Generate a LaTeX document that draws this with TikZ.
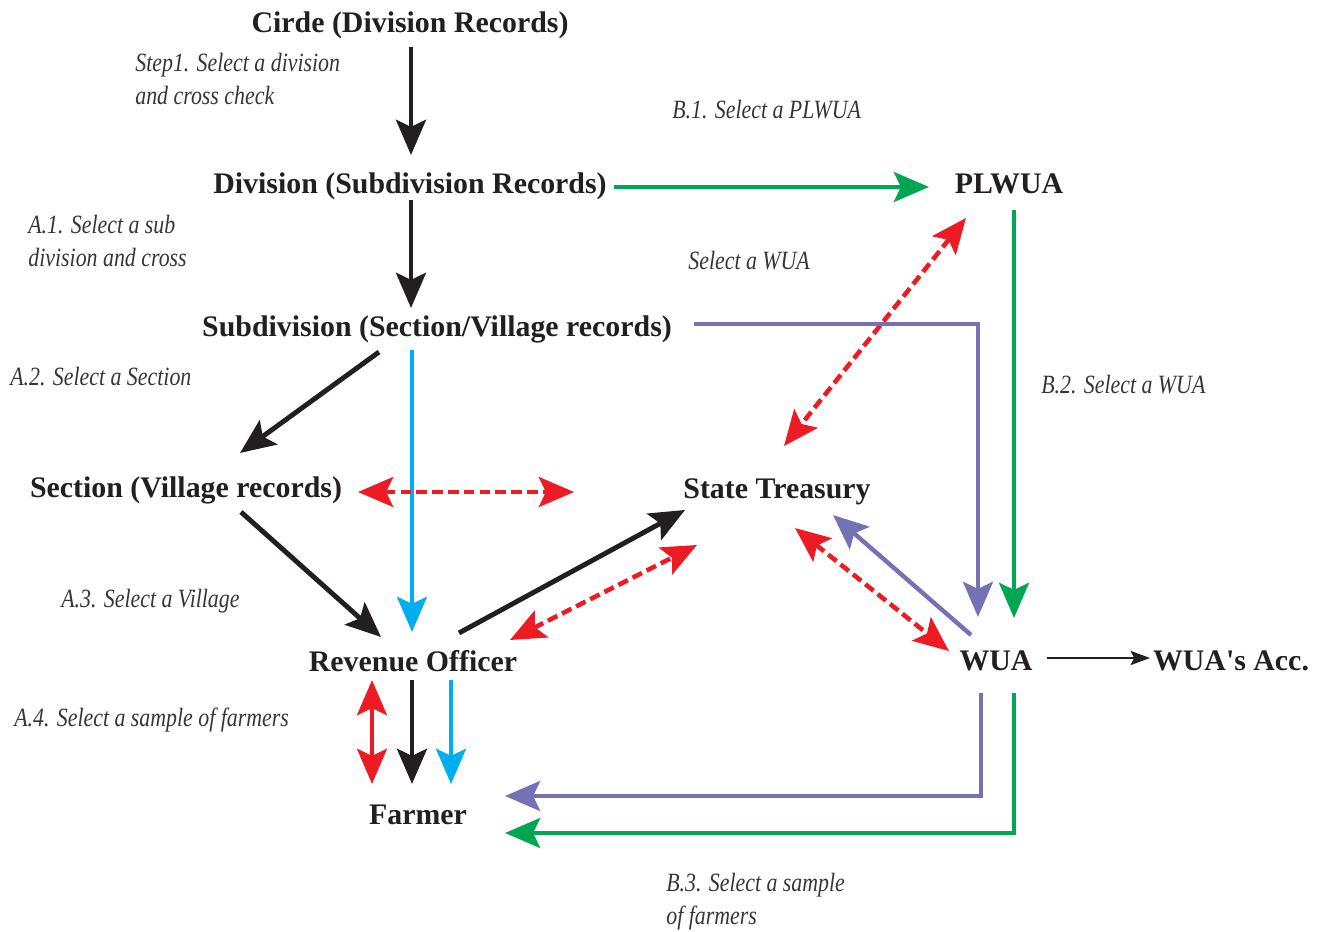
\documentclass[tikz,border=0pt]{standalone}
\usepackage{fontspec}
\setmainfont{Liberation Serif}
\newfontfamily\labfont[FakeStretch=0.83]{Liberation Serif}
\usetikzlibrary{arrows.meta,calc}
\definecolor{ink}{HTML}{231F20}
\definecolor{cGRN}{HTML}{00A651}
\definecolor{cCYN}{HTML}{00AEEF}
\definecolor{cRED}{HTML}{ED1C24}
\definecolor{cPUR}{HTML}{7571B5}

\begin{document}
\begin{tikzpicture}[x=0.02cm, y=-0.02cm, >={Stealth[length=20pt,width=17pt,inset=4pt]},
  box/.style={font=\fontsize{17}{20}\selectfont\bfseries, text=ink, inner sep=0pt, anchor=base},
  lab/.style={font=\labfont\fontsize{15}{18.8}\selectfont\itshape, text=ink!90, inner sep=0pt, anchor=base west, align=left},
  blk/.style={->, draw=ink, line width=2.8pt},
  grn/.style={->, draw=cGRN, line width=2.5pt},
  cyn/.style={->, draw=cCYN, line width=2.5pt},
  pur/.style={->, draw=cPUR, line width=2.5pt},
  red/.style={<->, draw=cRED, line width=2.6pt},
  dsh/.style={red, dash pattern=on 6pt off 3pt}]
\useasboundingbox (0,0) rectangle (1320,932);

\node[box] (cirde) at (410,33) {Cirde (Division Records)};
\node[box] (division) at (410,194) {Division (Subdivision Records)};
\node[box] (plwua) at (1009,194) {PLWUA};
\node[box] (subdiv) at (437,337) {Subdivision (Section/Village records)};
\node[box] (section) at (186,498) {Section (Village records)};
\node[box] (treasury) at (777,499) {State Treasury};
\node[box] (revenue) at (413,672) {Revenue Officer};
\node[box] (wua) at (996,671) {WUA};
\node[box] (wuaacc) at (1231,671) {WUA\textquotesingle s Acc.};
\node[box] (farmer) at (418,825) {Farmer};
\coordinate (secend) at (574,492);

\node[lab] (lstep) at (135,105) {Step1. Select a division\\and cross check};
\node[lab] (lb1) at (672,119) {B.1. Select a PLWUA};
\node[lab] (la1) at (28,267) {A.1. Select a sub\\division and cross};
\node[lab] (lwua) at (688,270) {Select a WUA};
\node[lab] (la2) at (10,386) {A.2. Select a Section};
\node[lab] (lb2) at (1041,394) {B.2. Select a WUA};
\node[lab] (la3) at (61,608) {A.3. Select a Village};
\node[lab] (la4) at (14,726) {A.4. Select a sample of farmers};
\node[lab] (lb3) at (666,925) {B.3. Select a sample\\of farmers};

% top chain
\draw[blk] ($(cirde.base)+(1,14)$) -- ($(division.base)+(1,-39)$);
\draw[blk] ($(division.base)+(1,6)$) -- ($(subdiv.base)+(-26,-29)$);
\draw[grn] ($(division.base)+(204,-7)$) -- ($(plwua.base)+(-80,-7)$);
\draw[dsh] ($(plwua.base)+(-43,24)$) -- ($(treasury.base)+(7,-53)$);
\draw[grn] ($(plwua.base)+(5,16)$) -- ($(wua.base)+(18,-53)$);
\draw[pur] ($(subdiv.base)+(257,-13)$) -| ($(wua.base)+(-18,-54)$);

% section / revenue officer
\draw[blk] ($(subdiv.base)+(-58,15)$) -- ($(section.base)+(54,-45)$);
\draw[cyn] ($(subdiv.base)+(-25,13)$) -- ($(revenue.base)+(-1,-40)$);
\draw[dsh] ($(section.base)+(172,-6)$) -- (secend);
\draw[blk] ($(section.base)+(55,14)$) -- ($(revenue.base)+(-32,-35)$);
\draw[blk] ($(revenue.base)+(46,-39)$) -- ($(treasury.base)+(-92,11)$);
\draw[dsh] ($(revenue.base)+(97,-32)$) -- ($(treasury.base)+(-80,46)$);

% treasury / wua
\draw[pur] ($(wua.base)+(-25,-36)$) -- ($(treasury.base)+(56,16)$);
\draw[dsh] ($(treasury.base)+(18,29)$) -- ($(wua.base)+(-47,-20)$);
\draw[->, draw=ink, line width=1.3pt, >={Stealth[length=11pt,width=8pt,inset=2pt]}] ($(wua.base)+(51,-13)$) -- ($(wuaacc.base)+(-81,-13)$);

% to farmer
\draw[red] ($(revenue.base)+(-41,8)$) -- ($(farmer.base)+(-46,-41)$);
\draw[blk] ($(revenue.base)+(-1,8)$) -- ($(farmer.base)+(-6,-41)$);
\draw[cyn] ($(revenue.base)+(38,8)$) -- ($(farmer.base)+(33,-41)$);
\draw[pur] ($(wua.base)+(-15,22)$) |- ($(farmer.base)+(87,-29)$);
\draw[grn] ($(wua.base)+(18,22)$) |- ($(farmer.base)+(87,8)$);
\end{tikzpicture}
\end{document}
